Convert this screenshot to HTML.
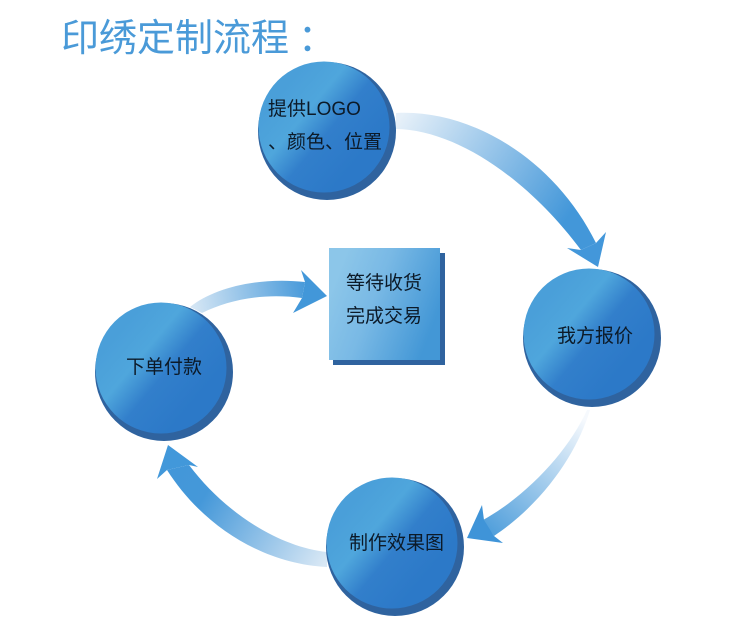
<!DOCTYPE html>
<html lang="zh">
<head>
<meta charset="utf-8">
<title>印绣定制流程</title>
<style>
html,body{margin:0;padding:0;background:#fff;width:750px;height:638px;overflow:hidden}
svg{display:block}
text{font-family:"Liberation Sans","Noto Sans CJK SC",sans-serif}
</style>
</head>
<body>
<svg width="750" height="638" viewBox="0 0 750 638" xmlns="http://www.w3.org/2000/svg">
<defs>
  <linearGradient id="ball" x1="0.2" y1="0.2" x2="0.8" y2="0.7">
    <stop offset="0" stop-color="#4a9fd9"/>
    <stop offset="0.32" stop-color="#4fa6dc"/>
    <stop offset="0.6" stop-color="#327fcb"/>
    <stop offset="1" stop-color="#2c79c8"/>
  </linearGradient>
  <linearGradient id="sq" x1="0.05" y1="0.3" x2="0.95" y2="0.65">
    <stop offset="0" stop-color="#8cc6e9"/>
    <stop offset="0.4" stop-color="#79b9e5"/>
    <stop offset="1" stop-color="#4397d6"/>
  </linearGradient>
  <linearGradient id="a1" gradientUnits="userSpaceOnUse" x1="400" y1="118" x2="590" y2="245">
    <stop offset="0" stop-color="#e6f0f9"/>
    <stop offset="0.85" stop-color="#4397d9"/>
    <stop offset="1" stop-color="#4397d9"/>
  </linearGradient>
  <linearGradient id="a2" gradientUnits="userSpaceOnUse" x1="585" y1="420" x2="485" y2="530">
    <stop offset="0" stop-color="#f6f9fd"/>
    <stop offset="1" stop-color="#4f9edb"/>
  </linearGradient>
  <linearGradient id="a3" gradientUnits="userSpaceOnUse" x1="327" y1="560" x2="180" y2="470">
    <stop offset="0" stop-color="#d9e8f5"/>
    <stop offset="0.8" stop-color="#4598d9"/>
    <stop offset="1" stop-color="#4397d9"/>
  </linearGradient>
  <linearGradient id="a4" gradientUnits="userSpaceOnUse" x1="195" y1="310" x2="310" y2="290">
    <stop offset="0" stop-color="#d3e5f4"/>
    <stop offset="1" stop-color="#4397d9"/>
  </linearGradient>
</defs>
<rect width="750" height="638" fill="#fff"/>

<text x="61" y="51" font-size="38" fill="#4a9ad8">印绣定制流程</text>
<text x="298" y="51" font-size="38" fill="#4a9ad8">：</text>

<!-- arrow 1 -->
<path d="M396 113 C470 109 554 158 596 243 L581 250 C527 178 456 130 396 129 Z" fill="url(#a1)"/>
<path d="M567 248 L581 250 L596 243 L606 232 L598 267 Z" fill="#4397da"/>

<!-- arrow 2 -->
<path d="M590 410 C578 450 546 501 494 536 L483 520 C528 495 569 450 587 410 Z" fill="url(#a2)"/>
<path d="M482 505 L484 520 L494 536 L503 543 L467 538 Z" fill="#3f94d8"/>

<!-- arrow 3 -->
<path d="M327 552 C280 547 226 514 189 465 L167 470 C204 528 265 564 327 567 Z" fill="url(#a3)"/>
<path d="M168 445 L198 467 L189 465 L167 470 L157 479 Z" fill="#4298da"/>

<!-- arrow 4 -->
<path d="M190 307 C215 287 260 277 305 282 L302 298 C265 293 230 299 202 313 Z" fill="url(#a4)"/>
<path d="M301 270 L327 296 L293 313 L302 298 L305 282 Z" fill="#4297d9"/>

<!-- balls -->
<circle cx="327" cy="131" r="69" fill="#2f639f"/>
<circle cx="324" cy="127" r="65.5" fill="url(#ball)"/>
<circle cx="592" cy="338" r="69" fill="#2f639f"/>
<circle cx="589" cy="334" r="65.5" fill="url(#ball)"/>
<circle cx="164" cy="372" r="69" fill="#2f639f"/>
<circle cx="161" cy="368" r="65.5" fill="url(#ball)"/>
<circle cx="395" cy="547" r="69" fill="#2f639f"/>
<circle cx="392" cy="543" r="65.5" fill="url(#ball)"/>

<!-- square -->
<rect x="333" y="253" width="112" height="112" fill="#2f639f"/>
<rect x="329" y="248" width="111" height="112" fill="url(#sq)"/>

<!-- labels -->
<g fill="#0c1a28" font-size="19">
  <text x="268" y="115">提供LOGO</text>
  <text x="268" y="148">、颜色、位置</text>
  <text x="557" y="342">我方报价</text>
  <text x="126" y="373">下单付款</text>
  <text x="349" y="549">制作效果图</text>
  <text x="346" y="289">等待收货</text>
  <text x="346" y="322">完成交易</text>
</g>
</svg>
</body>
</html>
